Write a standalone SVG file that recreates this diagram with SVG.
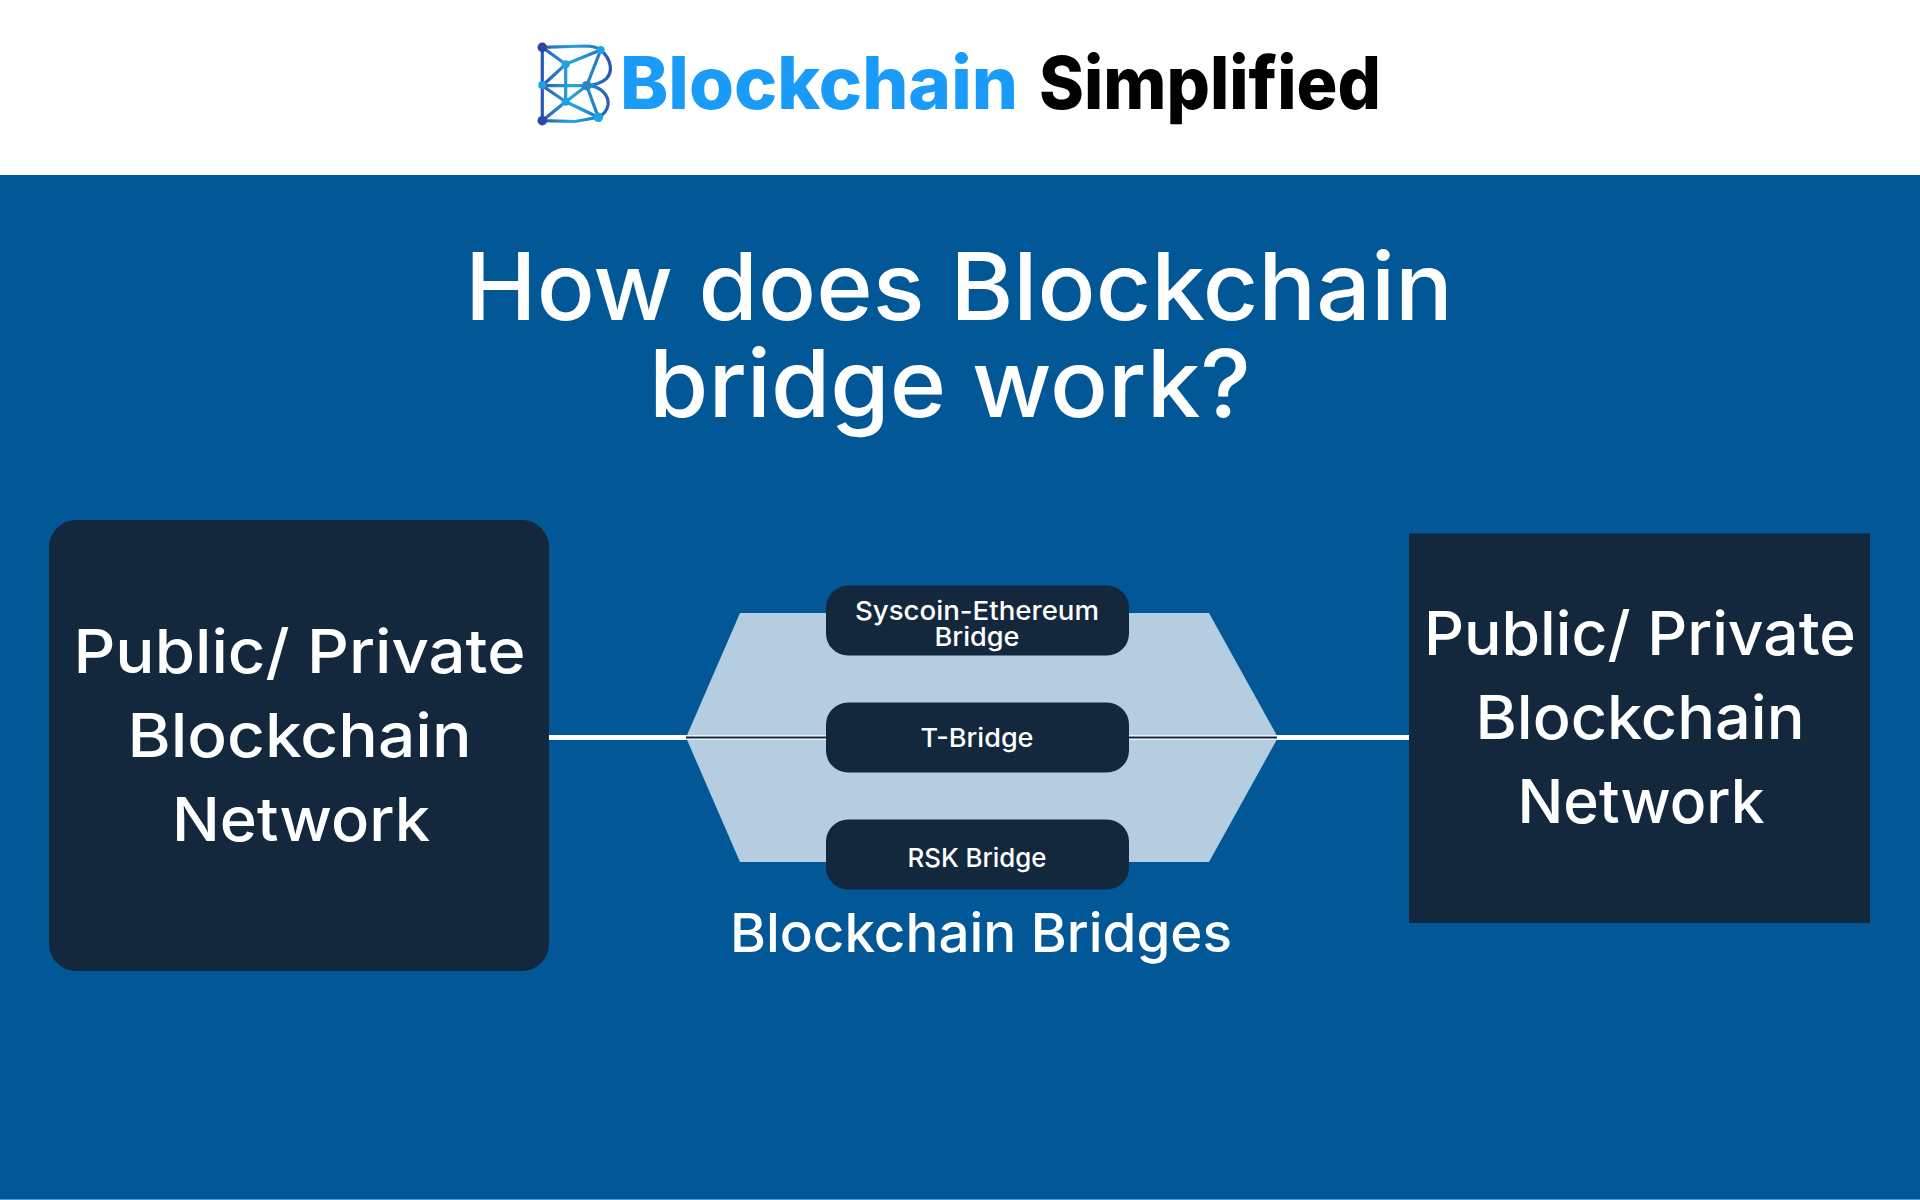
<svg xmlns="http://www.w3.org/2000/svg" width="1920" height="1200" viewBox="0 0 1920 1200">
<defs>
<linearGradient id="lg" gradientUnits="userSpaceOnUse" x1="540" y1="85" x2="610" y2="85"><stop offset="0" stop-color="#2a52b0"/><stop offset="0.45" stop-color="#25a6e0"/><stop offset="0.8" stop-color="#1f7fc8"/><stop offset="1" stop-color="#2a55ad"/></linearGradient>
</defs>
<style>
text{font-family:"Inter","Noto Sans","Liberation Sans",sans-serif;fill:#fff;text-anchor:middle;font-weight:500}
.box{fill:#14283d}
.lg{font-size:61px}
.sm{font-size:26px}
.wire{stroke:#fff;stroke-width:5;fill:none}
.inner{stroke:#fff;stroke-width:4.5;fill:none}
.thin{stroke:#14283d;stroke-width:2;fill:none}
.logo{font-weight:800;font-size:73px;text-anchor:start}
.ll{fill:none;stroke:url(#lg);stroke-width:3.2}
.ln{fill:#1fa3e0}
.ld{fill:#2d479f}
</style>
<rect width="1920" height="1200" fill="#fff"/>
<g id="panel">
<rect x="0" y="175" width="1920" height="1025" fill="#025796"/>
<rect x="0" y="1199" width="1920" height="1" fill="#5a9bd2"/>
</g>
<g id="logo">
<path class="ll" d="M542.3 47.3L585 46C595 46 598 48 600.7 50C612 60 613 72 606 79C600 84 594 85 586.7 85.7C602 86 609 96 608 105C607 111 603 115 598.3 117.3L575 121.5L542.3 120.7V47.3L565.7 64.3L600.7 50L586.7 85.7L598.3 117.3L565.7 101.7L542.3 120.7M565.7 64.3V101.7L586.7 85.7H542.3L565.7 64.3M542.3 85.7L565.7 101.7"/>
<circle class="ld" cx="542.3" cy="47.3" r="4.8"/><circle class="ln" cx="600.7" cy="50" r="4"/><circle class="ln" cx="565.7" cy="64.3" r="4"/><circle class="ln" cx="542.3" cy="85" r="4"/><circle cx="586.7" cy="85.7" r="4.8" fill="#2a86c8"/><circle class="ln" cx="565.7" cy="101.7" r="4"/><circle class="ld" cx="542.3" cy="120.7" r="4.8"/><circle class="ln" cx="598.3" cy="117.3" r="4.8"/>
<text class="logo" x="620" y="109" style="fill:#1a9bf8" textLength="398" lengthAdjust="spacingAndGlyphs">Blockchain</text>
<text class="logo" x="1039" y="109" style="fill:#000" textLength="342" lengthAdjust="spacingAndGlyphs">Simplified</text>
</g>
<g id="title">
<text x="959" y="320" font-size="94" textLength="988" lengthAdjust="spacingAndGlyphs">How does Blockchain</text>
<text x="950" y="417" font-size="94" textLength="602" lengthAdjust="spacingAndGlyphs">bridge work?</text>
</g>
<g id="bridges-area"><polygon points="686,737.5 740,613 1209,613 1278,737.5 1209,862 740,862" fill="#b5cde0"/></g>
<g id="connectors">
<path class="wire" d="M549 737.5H686M1277 737.5H1410"/>
<path class="inner" d="M686 737.5H826M1128 737.5H1277"/>
<path class="thin" d="M686 737.5H826M1128 737.5H1277"/>
</g>
<g id="node-left">
<rect class="box" x="49" y="520" width="500" height="451" rx="27"/>
<text class="lg" x="299.5" y="673" textLength="452" lengthAdjust="spacingAndGlyphs">Public/ Private</text>
<text class="lg" x="299.5" y="757" textLength="344" lengthAdjust="spacingAndGlyphs">Blockchain</text>
<text class="lg" x="301" y="841" textLength="258" lengthAdjust="spacingAndGlyphs">Network</text>
</g>
<g id="node-right">
<rect class="box" x="1409" y="533.5" width="461" height="389.5"/>
<text class="lg" x="1640" y="655" textLength="432" lengthAdjust="spacingAndGlyphs">Public/ Private</text>
<text class="lg" x="1640" y="739" textLength="329" lengthAdjust="spacingAndGlyphs">Blockchain</text>
<text class="lg" x="1641" y="823" textLength="247" lengthAdjust="spacingAndGlyphs">Network</text>
</g>
<g id="bridge-1">
<rect class="box" x="826" y="585.5" width="303" height="70" rx="22"/>
<text class="sm" x="977" y="619.5" textLength="244" lengthAdjust="spacingAndGlyphs">Syscoin-Ethereum</text>
<text class="sm" x="977" y="646" textLength="85" lengthAdjust="spacingAndGlyphs">Bridge</text>
</g>
<g id="bridge-2">
<rect class="box" x="826" y="702.5" width="303" height="70" rx="22"/>
<text class="sm" x="977" y="747" textLength="113" lengthAdjust="spacingAndGlyphs">T-Bridge</text>
</g>
<g id="bridge-3">
<rect class="box" x="826" y="819.5" width="303" height="70" rx="22"/>
<text class="sm" x="977" y="867" textLength="139" lengthAdjust="spacingAndGlyphs">RSK Bridge</text>
</g>
<text id="bridges-label" x="981" y="952" font-size="54" textLength="502" lengthAdjust="spacingAndGlyphs">Blockchain Bridges</text>
</svg>
